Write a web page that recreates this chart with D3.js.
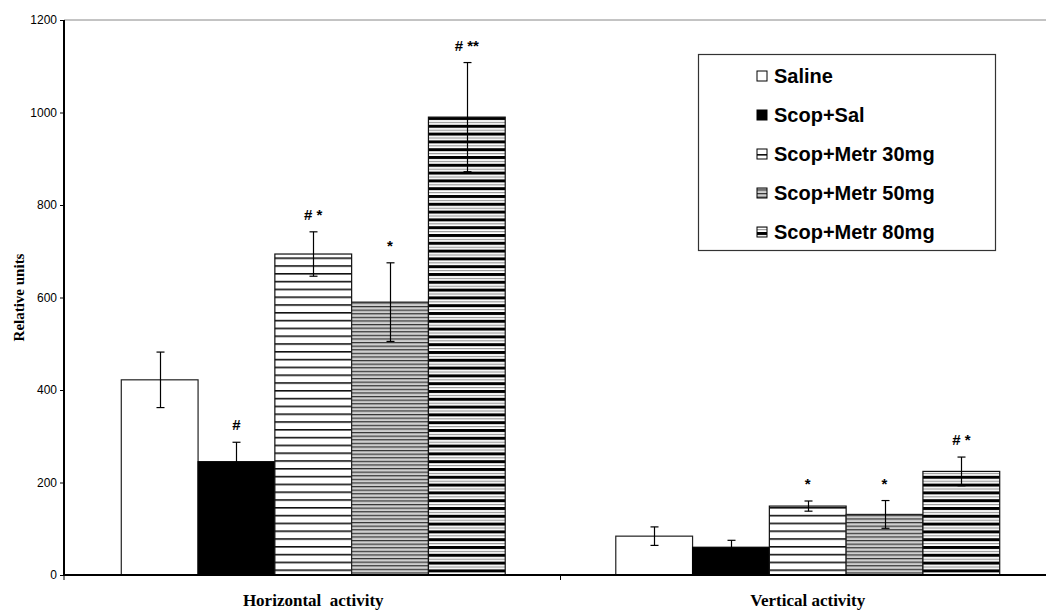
<!DOCTYPE html>
<html>
<head>
<meta charset="utf-8">
<script src="https://cdn.jsdelivr.net/npm/d3@7"></script>
<style>
  html, body { margin: 0; padding: 0; background: #fff; }
  svg { display: block; }
</style>
</head>
<body>
<div id="chart"></div>
<script>
// values
const categories = ['Horizontal  activity', 'Vertical activity'];
const seriesNames = ['Saline', 'Scop+Sal', 'Scop+Metr 30mg', 'Scop+Metr 50mg', 'Scop+Metr 80mg'];
const horizontalValues = [422, 245, 694, 590, 990];
const horizontalErrors = [60, 42, 48, 85, 118];
const verticalValues = [84, 60, 149, 131, 224];
const verticalErrors = [20, 15, 11, 30, 31];
const horizontalMarks = ['', '#', '# *', '*', '# **'];
const verticalMarks = ['', '', '*', '*', '# *'];
const yTicks = [0, 200, 400, 600, 800, 1000, 1200];

const W = 1046, H = 614;
const margin = { top: 20, left: 64, bottom: 39 };
const plotBottom = H - margin.bottom;

const svg = d3.select('#chart').append('svg')
  .attr('width', W)
  .attr('height', H);

const y = d3.scaleLinear().domain([0, 1200]).range([plotBottom, margin.top]);
const x0 = d3.scaleBand().domain(categories).range([66, 1055]);
const x1 = d3.scaleBand().domain(seriesNames).range([0, x0.bandwidth()]).paddingOuter(0.72);

// fill patterns
const defs = svg.append('defs');
function stripes(id, period, bg, lines) {
  const p = defs.append('pattern')
    .attr('id', id)
    .attr('patternUnits', 'userSpaceOnUse')
    .attr('width', 8)
    .attr('height', period);
  p.append('rect').attr('width', 8).attr('height', period).attr('fill', bg);
  lines.forEach(l => {
    p.append('rect').attr('y', l[0]).attr('width', 8).attr('height', l[1]).attr('fill', l[2]);
  });
}
stripes('p30', 7.8, '#fff', [[0, 1.6, '#111']]);
stripes('p50', 3.6, '#cfcfcf', [[0, 1.2, '#333']]);
stripes('p80', 7.8, '#fff', [[0, 3, '#000'], [5, 1, '#888']]);

const fills = ['#fff', '#000', 'url(#p30)', 'url(#p50)', 'url(#p80)'];
const borders = ['#222', '#000', '#111', '#222', '#111'];

// top border of the plot area
svg.append('line')
  .attr('x1', margin.left).attr('x2', W)
  .attr('y1', y(1200)).attr('y2', y(1200))
  .attr('stroke', '#888').attr('stroke-width', 1);

const data = categories.map((c, ci) => seriesNames.map((s, si) => ({
  cat: c,
  name: s,
  si: si,
  value: ci === 0 ? horizontalValues[si] : verticalValues[si],
  err: ci === 0 ? horizontalErrors[si] : verticalErrors[si],
  mark: ci === 0 ? horizontalMarks[si] : verticalMarks[si]
}))).flat();

const bars = svg.append('g');
bars.selectAll('rect')
  .data(data)
  .join('rect')
    .attr('x', d => x0(d.cat) + x1(d.name))
    .attr('y', d => y(d.value))
    .attr('width', x1.bandwidth())
    .attr('height', d => plotBottom - y(d.value))
    .attr('fill', d => fills[d.si])
    .attr('stroke', d => borders[d.si])
    .attr('stroke-width', 1.2);

// error bars
const eb = svg.append('g').attr('stroke', '#000').attr('stroke-width', 1.2);
data.forEach(d => {
  const cx = Math.round(x0(d.cat) + x1(d.name) + x1.bandwidth() / 2) + 0.5;
  const t = y(d.value + d.err), b = y(d.value - d.err);
  eb.append('line').attr('x1', cx).attr('x2', cx).attr('y1', t).attr('y2', b);
  eb.append('line').attr('x1', cx - 4).attr('x2', cx + 4).attr('y1', t).attr('y2', t);
  eb.append('line').attr('x1', cx - 4).attr('x2', cx + 4).attr('y1', b).attr('y2', b);
});

// significance marks
svg.append('g')
  .selectAll('text')
  .data(data.filter(d => d.mark))
  .join('text')
    .attr('x', d => x0(d.cat) + x1(d.name) + x1.bandwidth() / 2)
    .attr('y', d => y(d.value + d.err) - 12)
    .attr('text-anchor', 'middle')
    .attr('font-family', 'Liberation Sans, Arial, sans-serif')
    .attr('font-weight', 'bold')
    .attr('font-size', 15)
    .attr('fill', '#000')
    .text(d => d.mark);

// y axis
svg.append('g')
  .attr('transform', `translate(${margin.left},0)`)
  .call(d3.axisLeft(y).tickValues(yTicks).tickFormat(d3.format('d')).tickSize(4).tickPadding(3))
  .call(g => g.select('.domain').attr('stroke', '#000').attr('stroke-width', 2).attr('d', `M0,${margin.top}V${plotBottom}`))
  .call(g => g.selectAll('.tick line').attr('stroke', '#000'))
  .call(g => g.selectAll('.tick text')
    .attr('font-family', 'Liberation Sans, Arial, sans-serif')
    .attr('font-size', 12)
    .attr('fill', '#000'));

// x axis
svg.append('line')
  .attr('x1', margin.left - 1).attr('x2', W)
  .attr('y1', plotBottom).attr('y2', plotBottom)
  .attr('stroke', '#000').attr('stroke-width', 2);
const catTicks = [x0.range()[0] - 2, x0(categories[1])];
svg.append('g').selectAll('line')
  .data(catTicks)
  .join('line')
    .attr('x1', d => d).attr('x2', d => d)
    .attr('y1', plotBottom).attr('y2', plotBottom + 5)
    .attr('stroke', '#000');

svg.append('g').selectAll('text')
  .data(categories)
  .join('text')
    .attr('x', d => x0(d) + x0.bandwidth() / 2)
    .attr('y', 606)
    .attr('text-anchor', 'middle')
    .attr('font-family', 'Liberation Serif, Times New Roman, serif')
    .attr('font-weight', 'bold')
    .attr('font-size', 17)
    .attr('xml:space', 'preserve')
    .style('white-space', 'pre')
    .text(d => d);

svg.append('text')
  .attr('transform', `translate(24,${(margin.top + plotBottom) / 2}) rotate(-90)`)
  .attr('text-anchor', 'middle')
  .attr('font-family', 'Liberation Serif, Times New Roman, serif')
  .attr('font-weight', 'bold')
  .attr('font-size', 15)
  .text('Relative units');

// legend
const lg = svg.append('g');
lg.append('rect')
  .attr('x', 698.5).attr('y', 54.5)
  .attr('width', 297).attr('height', 196)
  .attr('fill', '#fff')
  .attr('stroke', '#333').attr('stroke-width', 1.2);
const rows = lg.selectAll('g.row')
  .data(seriesNames)
  .join('g')
    .attr('class', 'row')
    .attr('transform', (d, i) => `translate(757,${76 + i * 39})`);
rows.append('rect')
  .attr('x', 0).attr('y', -5)
  .attr('width', 10).attr('height', 10)
  .attr('fill', (d, i) => fills[i])
  .attr('stroke', '#000').attr('stroke-width', 1);
rows.append('text')
  .attr('x', 17).attr('y', 7)
  .attr('font-family', 'Liberation Sans, Arial, sans-serif')
  .attr('font-weight', 'bold')
  .attr('font-size', 20)
  .attr('fill', '#000')
  .text(d => d);
</script>
</body>
</html>
